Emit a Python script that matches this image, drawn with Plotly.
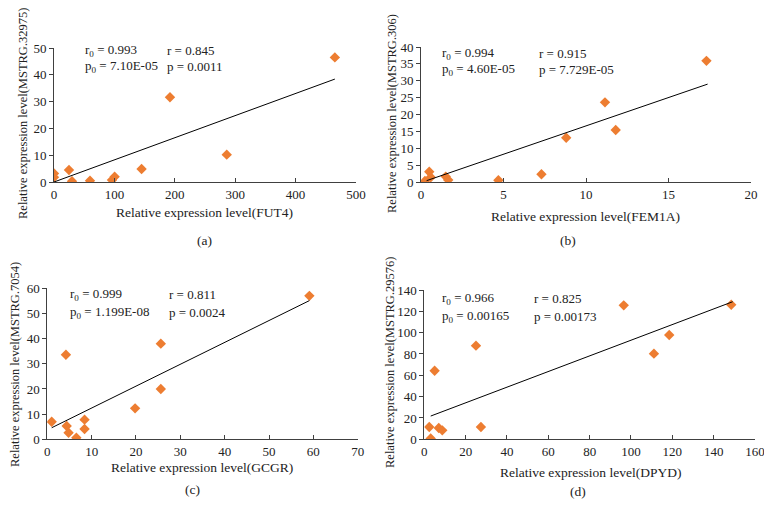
import plotly.graph_objects as go

# data
fut4 = [0, 0, 24.8, 29.8, 59.6, 96, 100.4, 145, 192, 286, 465]
mstrg_32975 = [3.2, 1.75, 4.5, 0.3, 0.5, 0.75, 2.0, 4.85, 31.6, 10.2, 46.5]
fit_a_x = [0, 465]
fit_a_y = [0.0, 38.4]

fem1a = [0.24, 0.5, 0.59, 1.5, 1.65, 4.69, 7.3, 8.8, 11.15, 11.8, 17.3]
mstrg_306 = [0.3, 3.05, 1.4, 1.6, 0.6, 0.5, 2.3, 13.1, 23.6, 15.4, 35.9]
fit_b_x = [0.34, 17.37]
fit_b_y = [0.4, 29.0]

gcgr = [0.99, 4.2, 4.37, 4.8, 6.55, 8.4, 8.4, 19.8, 25.6, 25.6, 59.1]
mstrg_7054 = [7.0, 33.6, 5.3, 2.6, 0.6, 7.8, 4.1, 12.3, 38.0, 20.0, 57.0]
fit_c_x = [1.0, 59.1]
fit_c_y = [4.6, 55.1]

dpyd = [2.4, 3.1, 5.0, 7.0, 8.7, 25.0, 27.4, 96.5, 111.1, 118.5, 148.5]
mstrg_29576 = [11.5, 0.8, 64.3, 10.6, 8.4, 87.8, 11.5, 125.6, 80.3, 97.8, 126.2]
fit_d_x = [3.1, 149.2]
fit_d_y = [21.8, 129.0]

panels = [
    dict(x=fut4, y=mstrg_32975, fx=fit_a_x, fy=fit_a_y, xr=[0, 500], yr=[0, 50], xd=100, yd=10,
         xt="Relative expression level(FUT4)", yt="Relative expression level(MSTRG.32975)",
         stats=["r<sub>0</sub> = 0.993", "r = 0.845", "p<sub>0</sub> = 7.10E-05", "p = 0.0011"], tag="(a)"),
    dict(x=fem1a, y=mstrg_306, fx=fit_b_x, fy=fit_b_y, xr=[0, 20], yr=[0, 40], xd=5, yd=5,
         xt="Relative expression level(FEM1A)", yt="Relative expression level(MSTRG.306)",
         stats=["r<sub>0</sub> = 0.994", "r = 0.915", "p<sub>0</sub> = 4.60E-05", "p = 7.729E-05"], tag="(b)"),
    dict(x=gcgr, y=mstrg_7054, fx=fit_c_x, fy=fit_c_y, xr=[0, 70], yr=[0, 60], xd=10, yd=10,
         xt="Relative expression level(GCGR)", yt="Relative expression level(MSTRG.7054)",
         stats=["r<sub>0</sub> = 0.999", "r = 0.811", "p<sub>0</sub> = 1.199E-08", "p = 0.0024"], tag="(c)"),
    dict(x=dpyd, y=mstrg_29576, fx=fit_d_x, fy=fit_d_y, xr=[0, 160], yr=[0, 140], xd=20, yd=20,
         xt="Relative expression level(DPYD)", yt="Relative expression level(MSTRG.29576)",
         stats=["r<sub>0</sub> = 0.966", "r = 0.825", "p<sub>0</sub> = 0.00165", "p = 0.00173"], tag="(d)"),
]

# the page body has an 8px margin, so the figure is drawn 8px in and shrunk to fit the window
OFF = 8
W, H = 772 - OFF, 524 - OFF
# pixel boxes (window coordinates) of the plot areas: x0, x1, ytop, ybottom
boxes = [(54, 356, 48, 182), (421, 751, 47, 182), (47.3, 357.7, 288.3, 439.3), (424.3, 755, 290, 439.3)]
# pixel positions of texts
xtitle_pos = [(205, 212), (585, 216), (202, 467), (590, 472)]
ytitle_pos = [(23, 114), (392, 114), (15, 365), (390, 363)]
tag_pos = [(205, 240), (568, 240), (192, 489), (578, 491)]
stat_pos = [((83, 165), (50, 67)), ((440, 537), (53, 70)), ((68, 167), (294, 312)), ((440, 532), (298, 316))]

font = "Liberation Serif"
fig = go.Figure()
annotations = []


def px(x):
    return (x - OFF) / W


def py(y):
    return 1 - (y - OFF) / H


for i, p in enumerate(panels):
    n = "" if i == 0 else str(i + 1)
    fig.add_trace(go.Scatter(x=p["x"], y=p["y"], mode="markers", xaxis="x" + n, yaxis="y" + n,
                             marker=dict(symbol="diamond", size=8, color="#ED7D31"), showlegend=False))
    fig.add_trace(go.Scatter(x=p["fx"], y=p["fy"], mode="lines", xaxis="x" + n, yaxis="y" + n,
                             line=dict(color="black", width=1), showlegend=False))
    x0, x1, yt, yb = boxes[i]
    axis_common = dict(showgrid=False, zeroline=False, showline=True, linecolor="#404040", linewidth=1,
                       automargin=False, tickfont=dict(family=font, size=13, color="#222"),
                       ticklen=4, tickcolor="#404040")
    fig.layout["xaxis" + n] = dict(domain=[px(x0), px(x1)], range=p["xr"], dtick=p["xd"], ticks="inside",
                                   anchor="y" + n, **axis_common)
    fig.layout["yaxis" + n] = dict(domain=[py(yb), py(yt)], range=p["yr"], dtick=p["yd"], ticks="outside",
                                   anchor="x" + n, **axis_common)
    tf = dict(family=font, size=13.5, color="#222")
    common = dict(showarrow=False, xref="paper", yref="paper", xanchor="center", yanchor="middle")
    annotations.append(dict(x=px(xtitle_pos[i][0]), y=py(xtitle_pos[i][1]), text=p["xt"], font=tf, **common))
    annotations.append(dict(x=px(ytitle_pos[i][0]), y=py(ytitle_pos[i][1]), text=p["yt"], textangle=-90,
                            font=dict(family=font, size=12.5, color="#222"), **common))
    annotations.append(dict(x=px(tag_pos[i][0]), y=py(tag_pos[i][1]), text=p["tag"], font=tf, **common))
    (sx0, sx1), (sy0, sy1) = stat_pos[i]
    for txt, sx, sy in zip(p["stats"], [sx0, sx1, sx0, sx1], [sy0, sy0, sy1, sy1]):
        annotations.append(dict(x=px(sx), y=py(sy), text=txt, showarrow=False, xanchor="left",
                                yanchor="middle", xref="paper", yref="paper",
                                font=dict(family=font, size=13, color="#222")))

fig.update_layout(width=W, height=H, margin=dict(l=0, r=0, t=0, b=0), paper_bgcolor="white",
                  plot_bgcolor="white", annotations=annotations)

fig.write_html("out.html")
